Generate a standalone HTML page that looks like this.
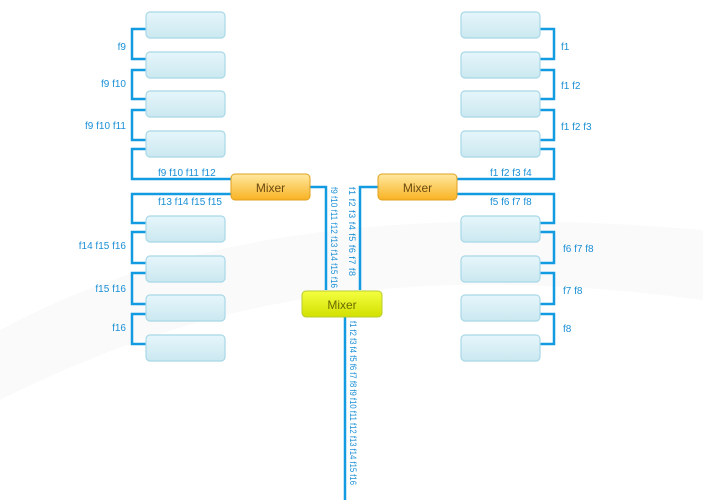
<!DOCTYPE html>
<html><head><style>
html,body{margin:0;padding:0;background:#fff;}
svg{display:block;font-family:"Liberation Sans",sans-serif;}
.t{font-size:10px;fill:#1a8fd6;}
</style></head><body>
<svg width="703" height="500" viewBox="0 0 703 500">
<defs>
<linearGradient id="bx" x1="0" y1="0" x2="0" y2="1"><stop offset="0" stop-color="#e6f6fb"/><stop offset="1" stop-color="#cbe8f0"/></linearGradient>
<linearGradient id="or" x1="0" y1="0" x2="0" y2="1"><stop offset="0" stop-color="#ffe9a0"/><stop offset="1" stop-color="#f9b223"/></linearGradient>
<linearGradient id="ye" x1="0" y1="0" x2="0" y2="1"><stop offset="0" stop-color="#f4ff40"/><stop offset="1" stop-color="#d2e000"/></linearGradient>
</defs>
<path d="M0 330 C150 250 350 200 703 230 L703 300 C400 260 200 300 0 400Z" fill="#f6f7f6" opacity="0.6"/>
<g fill="none" stroke="#129be0" stroke-width="2.5">
<path d="M146 29H132V59H146M146 70H132V99H146M146 110H132V140H146M146 149H132V179H231"/>
<path d="M231 194H132V223H146M146 232H132V263H146M146 273H132V304H146M146 314H132V344H146"/>
<path d="M540 29H554V59H540M540 70H554V99H540M540 110H554V140H540M540 149H554V179H457"/>
<path d="M457 194H554V223H540M540 232H554V263H540M540 273H554V304H540M540 314H554V344H540"/>
<path d="M310 187H326V290M378 187H360V290M345 317V500"/>
</g>
<g fill="url(#bx)" stroke="#a8d8e8" stroke-width="1.2">
<rect x="146" y="12" width="79" height="26" rx="4"/><rect x="146" y="52" width="79" height="26" rx="4"/>
<rect x="146" y="91" width="79" height="26" rx="4"/><rect x="146" y="131" width="79" height="26" rx="4"/>
<rect x="146" y="216" width="79" height="26" rx="4"/><rect x="146" y="256" width="79" height="26" rx="4"/>
<rect x="146" y="295" width="79" height="26" rx="4"/><rect x="146" y="335" width="79" height="26" rx="4"/>
<rect x="461" y="12" width="79" height="26" rx="4"/><rect x="461" y="52" width="79" height="26" rx="4"/>
<rect x="461" y="91" width="79" height="26" rx="4"/><rect x="461" y="131" width="79" height="26" rx="4"/>
<rect x="461" y="216" width="79" height="26" rx="4"/><rect x="461" y="256" width="79" height="26" rx="4"/>
<rect x="461" y="295" width="79" height="26" rx="4"/><rect x="461" y="335" width="79" height="26" rx="4"/>
</g>
<rect x="231" y="174" width="79" height="26" rx="4" fill="url(#or)" stroke="#e0a020"/>
<rect x="378" y="174" width="79" height="26" rx="4" fill="url(#or)" stroke="#e0a020"/>
<rect x="302" y="291" width="80" height="26" rx="4" fill="url(#ye)" stroke="#b8cc30"/>
<g font-size="12" fill="#6b4a10" text-anchor="middle">
<text x="270.5" y="192">Mixer</text><text x="417.5" y="192">Mixer</text><text x="342" y="309" fill="#6a6a00">Mixer</text>
</g>
<g class="t" text-anchor="end">
<text x="126" y="50">f9</text><text x="126" y="87">f9 f10</text><text x="126" y="129">f9 f10 f11</text>
<text x="126" y="249">f14 f15 f16</text><text x="126" y="292">f15 f16</text><text x="126" y="331">f16</text>
</g>
<g class="t">
<text x="158" y="176">f9 f10 f11 f12</text><text x="158" y="205">f13 f14 f15 f15</text>
<text x="490" y="176">f1 f2 f3 f4</text><text x="490" y="205">f5 f6 f7 f8</text>
<text x="561" y="50">f1</text><text x="561" y="89">f1 f2</text><text x="561" y="130">f1 f2 f3</text>
<text x="563" y="252">f6 f7 f8</text><text x="563" y="294">f7 f8</text><text x="563" y="332">f8</text>
<text transform="translate(331,187) rotate(90)" font-size="9" textLength="101" lengthAdjust="spacingAndGlyphs">f9 f10 f11 f12 f13 f14 f15 f16</text>
<text transform="translate(349,187) rotate(90)" font-size="9" textLength="89">f1 f2 f3 f4 f5 f6 f7 f8</text>
<text transform="translate(350,321) rotate(90)" font-size="9" textLength="164" lengthAdjust="spacingAndGlyphs">f1 f2 f3 f4 f5 f6 f7 f8 f9 f10 f11 f12 f13 f14 f15 f16</text>
</g>
</svg>
</body></html>
